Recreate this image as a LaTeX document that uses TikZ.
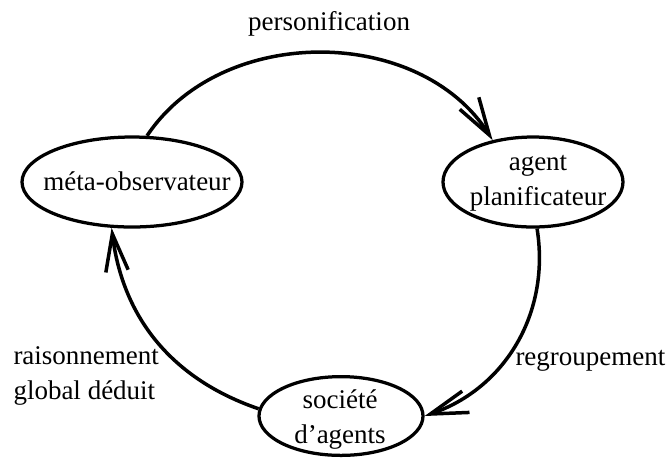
\documentclass[tikz,border=0pt]{standalone}
\usepackage{fontspec}
\setmainfont{Liberation Serif}
\usepackage{xcolor}
\usetikzlibrary{arrows.meta,shapes.geometric}
\definecolor{primary}{RGB}{0, 0, 0}

\begin{document}
\begin{tikzpicture}[x=0.4pt,y=-0.4pt,
  etat/.style={ellipse,draw=primary,line width=1.3pt,inner sep=0pt},
  fleche/.style={primary,line width=1.4pt,-{Straight Barb[length=15pt,width=9pt]}},
  lbl/.style={font=\fontsize{10.8}{14}\selectfont,align=center,inner sep=0pt}]
\useasboundingbox (0,0) rectangle (668,463);
% etats
\node[etat,minimum width=88pt,minimum height=36pt] (meta) at (132,182) {};
\node[etat,minimum width=72pt,minimum height=36pt] (agent) at (533,182) {};
\node[etat,minimum width=65.6pt,minimum height=31.5pt] (soc) at (341,416) {};
\node[lbl] (tmeta) at (137,181) {méta-observateur};
\node[lbl] (tagent) at (538,183) {agent\\planificateur};
\node[lbl] (tsoc) at (340,420) {société\\d'agents};
% transitions
\draw[fleche] (meta.72) to[bend left=57] (agent.134);
\draw[fleche] (agent.275) to[bend left=40] (soc.east);
\draw[fleche] (soc.175) to[bend left=32] (meta.246);
\node[lbl] (tperso) at (329,24) {personification};
\node[lbl,anchor=west] (tregr) at (515,361) {regroupement};
\node[lbl,anchor=west,align=left] (trais) at (13,376) {raisonnement\\global déduit};
\end{tikzpicture}
\end{document}
